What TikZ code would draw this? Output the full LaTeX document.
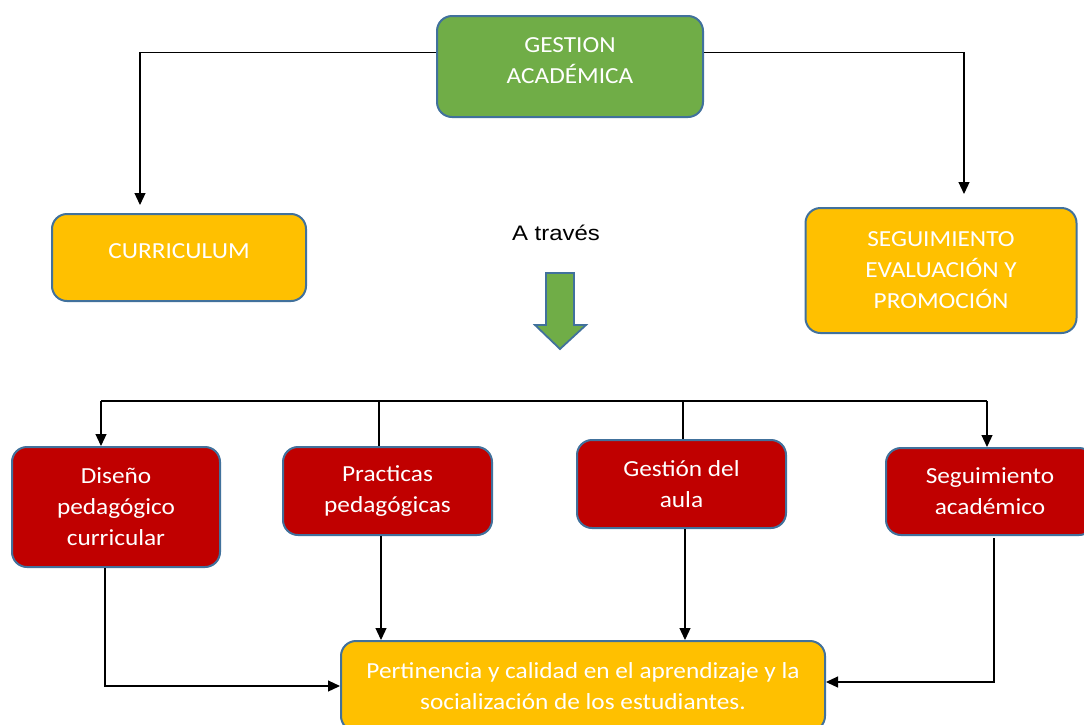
\documentclass[tikz,border=0pt]{standalone}
\usepackage{fontspec}
\setmainfont{Carlito}[FakeStretch=1.1]
\newfontfamily\arialfont{Liberation Sans}[FakeStretch=1.14]
\usetikzlibrary{arrows.meta,calc}
\definecolor{cgreen}{HTML}{70AD47}
\definecolor{cyellow}{HTML}{FFC000}
\definecolor{cred}{HTML}{C00000}
\definecolor{cborder}{HTML}{41719C}
\tikzset{
  boxfont/.style={text=white, align=center, font=\fontsize{23}{31}\selectfont},
  box/.style={draw=cborder, line width=2pt, rounded corners=15pt, inner sep=0pt, boxfont},
  greenbox/.style={box, fill=cgreen},
  yellowbox/.style={box, fill=cyellow},
  redbox/.style={box, fill=cred},
  conn/.style={draw=black, line width=1.2pt},
  arr/.style={conn, -{Triangle[length=12pt,width=11pt]}},
  bigarrow/.style={fill=cgreen, draw=cborder, line width=1.8pt, line join=miter}
}
\begin{document}
\begin{tikzpicture}[x=1pt,y=-1pt]
\useasboundingbox (0,0) rectangle (1084,724);
\fill[white] (0,0) rectangle (1084,724);

% top row
\node[greenbox, minimum width=266pt, minimum height=101pt,
  label={[boxfont, inner sep=0pt, yshift=6pt]center:GESTION\\ACADÉMICA}] (ga) at (570,66.5) {};
\node[yellowbox, minimum width=254pt, minimum height=87pt,
  label={[boxfont, inner sep=0pt, yshift=6pt]center:CURRICULUM}] (cur) at (179,257.5) {};
\node[yellowbox, minimum width=271pt, minimum height=125pt] (seg) at (941,270.5) {SEGUIMIENTO\\EVALUACIÓN Y\\PROMOCIÓN};
\node[font=\arialfont\fontsize{21}{24}\selectfont, inner sep=0pt] (atr) at (556,232.5) {A través};

% big green arrow
\draw[bigarrow] (546,273) -- (574,273) -- (574,325) -- (586,325) -- (560,349) -- (535,325) -- (546,325) -- cycle;

% connectors from GESTION
\draw[arr] ([yshift=14pt]ga.west) -| ([xshift=-39pt,yshift=8pt]cur.north);
\draw[arr] ([yshift=14pt]ga.east) -| ([xshift=23pt,yshift=13pt]seg.north);

% bottom row
\node[redbox, minimum width=208pt, minimum height=120pt] (d1) at (116,507) {Diseño\\pedagógico\\curricular};
\node[redbox, minimum width=209pt, minimum height=88pt] (d2) at (387.5,491) {Practicas\\pedagógicas};
\node[redbox, minimum width=209pt, minimum height=88pt] (d3) at (681.5,484) {Gestión del\\aula};
\node[redbox, minimum width=208pt, minimum height=87pt] (d4) at (990,491.5) {Seguimiento\\académico};
\node[yellowbox, minimum width=484pt, minimum height=90pt] (per) at (583,686) {Pertinencia y calidad en el aprendizaje y la\\socialización de los estudiantes.};

% bus
\coordinate (b1) at (101,401);
\coordinate (b2) at (379,401);
\coordinate (b3) at (683,401);
\coordinate (b4) at (987,401);
\draw[conn] (b1) -- (b4);
\draw[arr] (b1) -- (b1 |- d1.north);
\draw[conn] (b2) -- (b2 |- d2.north);
\draw[conn] (b3) -- (b3 |- d3.north);
\draw[arr] (b4) -- (b4 |- d4.north);

% to Pertinencia
\draw[arr] ([xshift=-11pt]d1.south) |- (per.west);
\draw[arr] ([xshift=-6.5pt]d2.south) -- ([xshift=-6.5pt]d2.south |- per.north);
\draw[arr] ([xshift=3.5pt]d3.south) -- ([xshift=3.5pt]d3.south |- per.north);
\draw[arr] ([xshift=4pt,yshift=-2pt]d4.south) |- ([yshift=4pt]per.east);
\end{tikzpicture}
\end{document}
